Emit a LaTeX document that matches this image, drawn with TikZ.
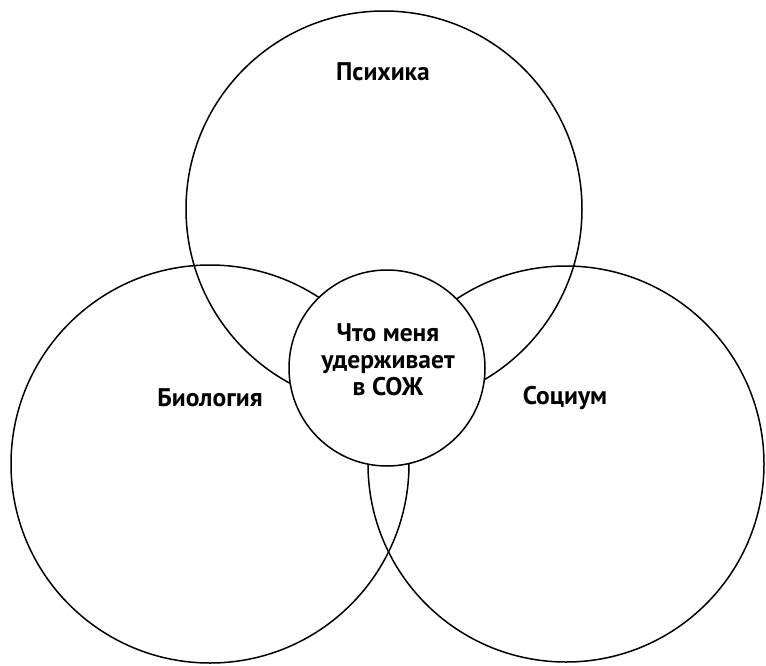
\documentclass[tikz,border=0pt]{standalone}
\usepackage{fontspec}
\setmainfont{PT Sans}
\begin{document}
\begin{tikzpicture}[x=1pt,y=-1pt,
  ring/.style={circle,draw=black,line width=1.5pt,inner sep=0pt},
  lbl/.style={font=\bfseries\fontsize{25.5}{27}\selectfont,align=center,inner sep=0pt}]
\useasboundingbox (0,0) rectangle (766,665);
\node[ring,minimum size=396pt] (top) at (384,209) {};
\node[ring,minimum size=398pt] (left) at (210,464) {};
\node[ring,minimum size=396pt] (right) at (566,464) {};
\node[ring,fill=white,minimum size=196pt] (mid) at (387,368) {};
\node[lbl] (tl) at (383,72) {Психика};
\node[lbl] (ll) at (210,398) {Биология};
\node[lbl] (rl) at (565,398) {Социум};
\node[lbl] (ml) at (388,360) {Что меня\\удерживает\\в СОЖ};
\end{tikzpicture}
\end{document}
